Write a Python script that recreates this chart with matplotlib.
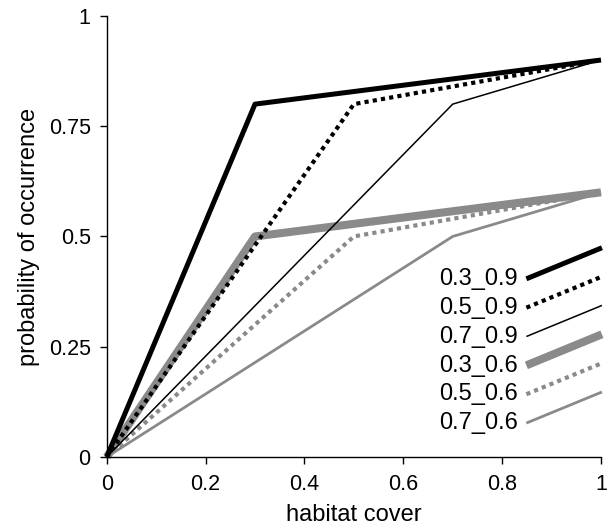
import matplotlib
matplotlib.use("Agg")
import matplotlib.pyplot as plt
from matplotlib.legend_handler import HandlerLine2D
from matplotlib.lines import Line2D

plt.rcParams['font.family'] = ['Liberation Sans', 'DejaVu Sans']

# habitat cover breakpoints and probability values for each scenario
labels = ['0.3_0.9', '0.5_0.9', '0.7_0.9', '0.3_0.6', '0.5_0.6', '0.7_0.6']
x_vals = [[0, 0.3, 1], [0, 0.5, 1], [0, 0.7, 1],
          [0, 0.3, 1], [0, 0.5, 1], [0, 0.7, 1]]
y_vals = [[0, 0.8, 0.9], [0, 0.8, 0.9], [0, 0.8, 0.9],
          [0, 0.5, 0.6], [0, 0.5, 0.6], [0, 0.5, 0.6]]

colors = ['black', 'black', 'black', '#8a8a8a', '#8a8a8a', '#8a8a8a']
widths = [3.6, 3.0, 1.1, 5.8, 3.0, 2.0]
styles = ['-', (0, (1, 1)), '-', '-', (0, (1, 1)), '-']


class SlantHandler(HandlerLine2D):
    # legend key drawn as a rising diagonal segment
    def create_artists(self, legend, orig_handle, xdescent, ydescent,
                       width, height, fontsize, trans):
        line = Line2D([-xdescent, -xdescent + width],
                      [-ydescent + 0.38 * height, -ydescent + 2.26 * height])
        self.update_prop(line, orig_handle, legend)
        line.set_transform(trans)
        return [line]


fig = plt.figure(figsize=(6.07, 5.30), dpi=100)
ax = fig.add_axes([0.1758, 0.1377, 0.8143, 0.8323])

handles = [None] * 6
for i in [3, 4, 5, 0, 1, 2]:
    ln, = ax.plot(x_vals[i], y_vals[i], color=colors[i], lw=widths[i],
                  linestyle=styles[i], dash_capstyle='butt',
                  solid_capstyle='butt', clip_on=False, label=labels[i])
    handles[i] = ln

ax.set_xlim(0, 1)
ax.set_ylim(0, 1)
ax.set_xticks([0, 0.2, 0.4, 0.6, 0.8, 1])
ax.set_xticklabels(['0', '0.2', '0.4', '0.6', '0.8', '1'])
ax.set_yticks([0, 0.25, 0.5, 0.75, 1])
ax.set_yticklabels(['0', '0.25', '0.5', '0.75', '1'])
ax.tick_params(labelsize=15.5, length=5, width=1, direction='out')
ax.tick_params(axis='x', pad=7.5)
ax.tick_params(axis='y', pad=6.5)
for s in ['top', 'right']:
    ax.spines[s].set_visible(False)
for s in ['left', 'bottom']:
    ax.spines[s].set_linewidth(1)

ax.set_xlabel('habitat cover', fontsize=17, labelpad=6)
ax.set_ylabel('probability of occurrence', fontsize=17, labelpad=6)

ax.legend(handles=handles, labels=labels, loc='lower right',
          bbox_to_anchor=(1.021, 0.03), frameon=False, fontsize=17,
          markerfirst=False, handlelength=3.2, handletextpad=0.35,
          labelspacing=0.29, borderaxespad=0,
          handler_map={Line2D: SlantHandler()})

fig.savefig('out.png', dpi=100)
